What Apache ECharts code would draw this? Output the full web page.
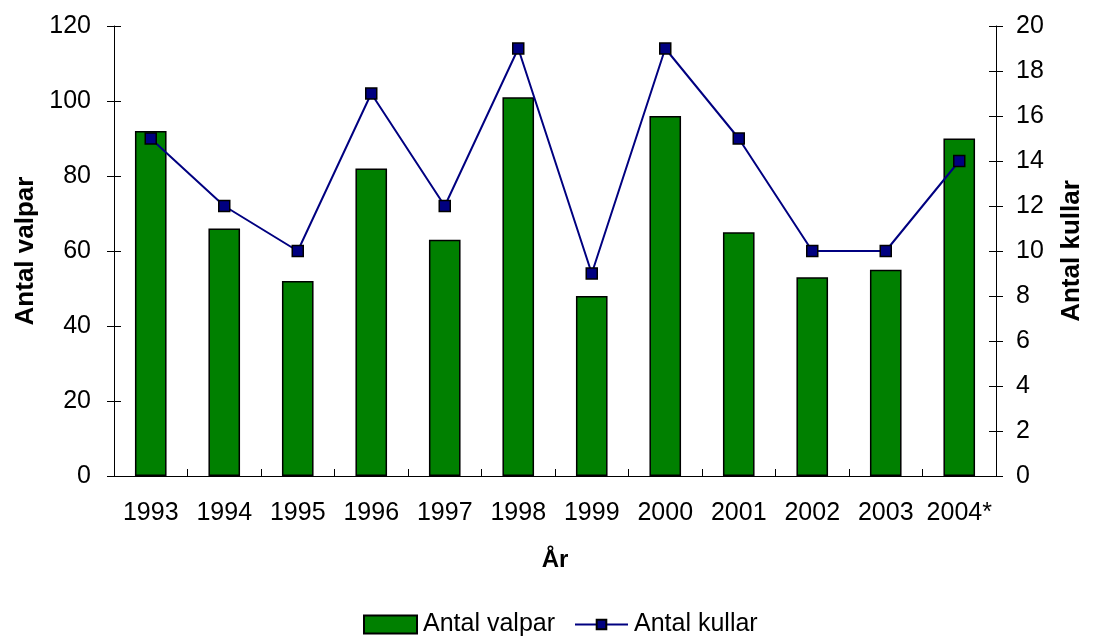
<!DOCTYPE html>
<html><head><meta charset="utf-8">
<script src="https://cdn.jsdelivr.net/npm/echarts@6/dist/echarts.min.js"></script>
<style>html,body{margin:0;padding:0;background:#fff}#c{width:1093px;height:636px}</style>
</head><body><div id="c"></div>
<script>
const years = ['1993','1994','1995','1996','1997','1998','1999','2000','2001','2002','2003','2004*'];
const valpar = [92,66,52,82,63,101,48,96,65,53,55,90];
const kullar = [15,12,10,17,12,19,9,19,15,10,10,14];

const F = 'Liberation Sans, Arial, sans-serif';
const lineStyle = {color:'#000', width:1};
const chart = echarts.init(document.getElementById('c'));
const yBase = (min,max,interval,pos,showLabel,margin,offset)=>({
  type:'value', min, max, interval, position:pos, offset:offset,
  axisLine:{show:offset===0, lineStyle},
  axisTick:{show:true, inside:false, length:7, lineStyle},
  axisLabel:{show:showLabel, color:'#000', fontSize:25, fontFamily:F, margin:margin},
  splitLine:{show:false}
});
const titleStyle = {color:'#000', fontSize:26, fontWeight:'bold', fontFamily:F};
chart.setOption({
  animation:false,
  grid:{left:114, right:87, top:26, bottom:160, containLabel:false},
  legend:[
    {left:358, top:607, itemGap:0, itemWidth:53, itemHeight:18,
     textStyle:{color:'#000', fontSize:25, fontFamily:F, padding:[0,0,0,1]},
     data:[{name:'Antal valpar', icon:'rect'}]},
    {left:569, top:607, itemGap:0, itemWidth:53, itemHeight:12,
     textStyle:{color:'#000', fontSize:25, fontFamily:F, padding:[0,0,0,1]},
     data:[{name:'Antal kullar'}]}
  ],
  xAxis:[
    {type:'category', data:years, position:'bottom',
     name:'År', nameLocation:'middle', nameGap:72,
     nameTextStyle:{color:'#000', fontSize:24, fontWeight:'bold', fontFamily:F},
     axisLine:{lineStyle}, axisTick:{length:7, lineStyle, interval:0},
     axisLabel:{color:'#000', fontSize:25, fontFamily:F, margin:25, interval:0}},
    {type:'category', data:years, position:'bottom', offset:-7,
     axisLine:{show:false}, axisTick:{show:true, inside:false, length:7, lineStyle, interval:0},
     axisLabel:{show:false}}
  ],
  yAxis:[
    Object.assign(yBase(0,120,20,'left',true,23,0),{
      name:'Antal valpar', nameLocation:'middle', nameGap:74, nameRotate:90,
      nameTextStyle:titleStyle}),
    Object.assign(yBase(0,20,2,'right',true,20,0),{
      name:'Antal kullar', nameLocation:'middle', nameGap:63, nameRotate:90,
      nameTextStyle:titleStyle}),
    yBase(0,120,20,'left',false,8,-7),
    yBase(0,20,2,'right',false,8,-7)
  ],
  series:[
    {name:'Antal valpar', type:'bar', data:valpar, xAxisIndex:0, yAxisIndex:0,
     barWidth:'43%',
     itemStyle:{color:'#008000', borderColor:'#000', borderWidth:1.5}},
    {name:'Antal kullar', type:'line', data:kullar, xAxisIndex:1, yAxisIndex:1,
     symbol:'rect', symbolSize:11, z:5,
     lineStyle:{color:'#000080', width:2},
     itemStyle:{color:'#000080', borderColor:'#000', borderWidth:1.5}}
  ]
});
</script></body></html>
